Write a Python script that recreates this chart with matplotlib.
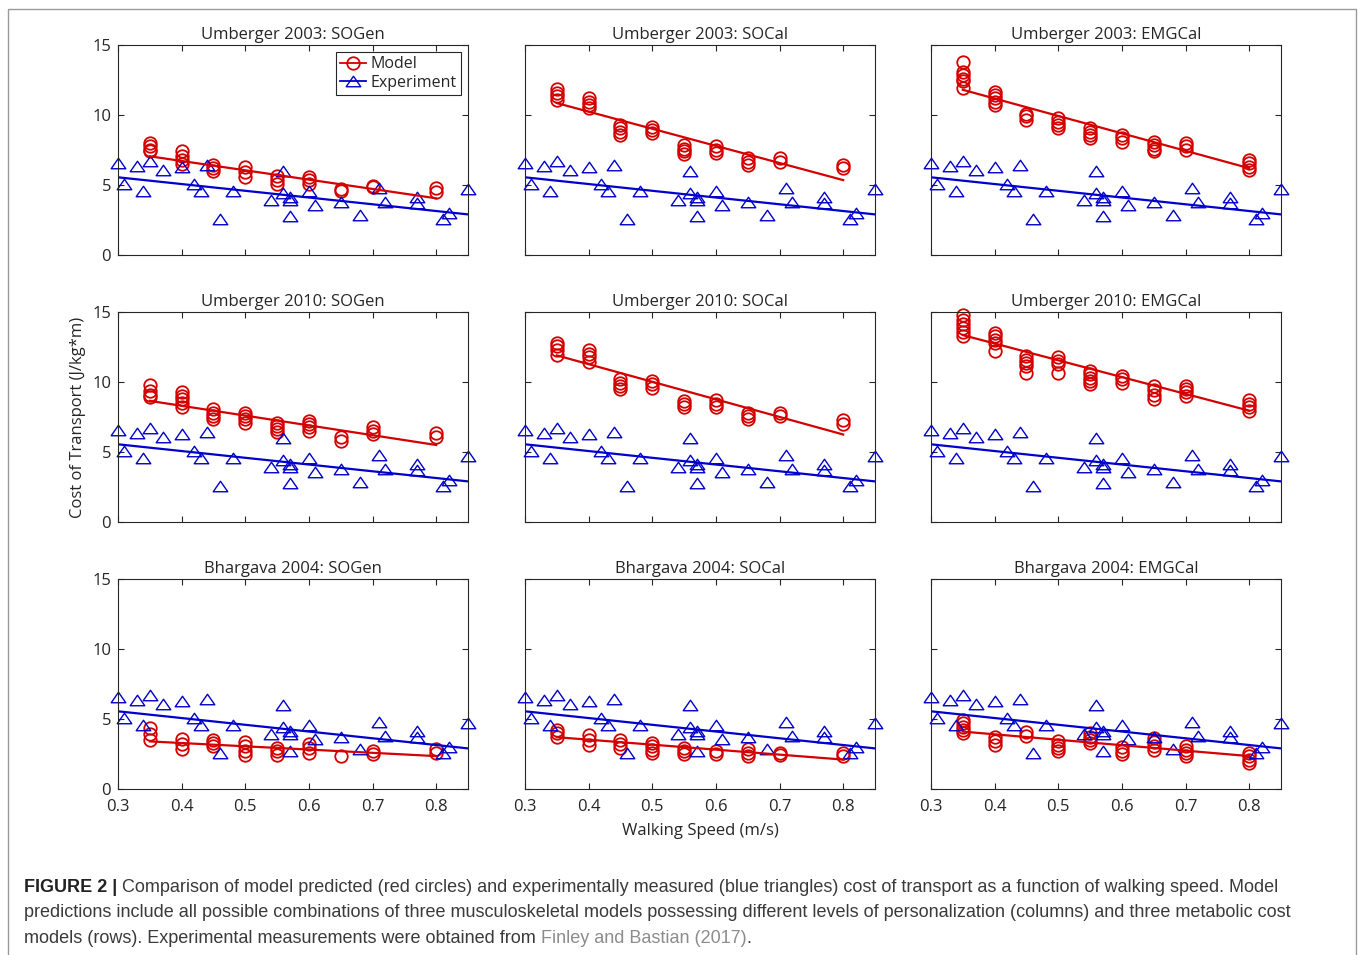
import matplotlib.pyplot as plt
from matplotlib.lines import Line2D
from matplotlib.patches import Rectangle
from matplotlib.path import Path

plt.rcParams['font.family'] = ['Open Sans', 'DejaVu Sans']

# experimental data (same in every panel)
exp_speed = [0.30, 0.31, 0.33, 0.34, 0.35, 0.37, 0.40, 0.42, 0.43, 0.44, 0.46, 0.48,
             0.54, 0.56, 0.56, 0.57, 0.57, 0.57, 0.60, 0.61, 0.65, 0.68, 0.71, 0.72,
             0.77, 0.77, 0.81, 0.82, 0.85]
exp_cot = [6.6, 5.1, 6.35, 4.6, 6.7, 6.1, 6.3, 5.05, 4.6, 6.45, 2.55, 4.6,
           3.95, 6.0, 4.4, 4.15, 3.9, 2.75, 4.6, 3.6, 3.75, 2.85, 4.8, 3.8,
           4.15, 3.7, 2.6, 3.0, 4.7]
exp_fit_x = [0.30, 0.85]
exp_fit_y = [5.55, 2.9]

model_speed = [0.35, 0.40, 0.45, 0.50, 0.55, 0.60, 0.65, 0.70, 0.80]
model_fit_x = [0.35, 0.80]

# model predictions, one list of values per speed
u03_sogen = [[8.0, 7.75, 7.5, 7.4], [7.4, 7.1, 6.8, 6.5], [6.4, 6.2, 6.0], [6.3, 5.95, 5.6],
             [5.65, 5.35, 5.1], [5.6, 5.35, 5.1], [4.7, 4.55], [4.85, 4.9], [4.75, 4.5]]
u03_socal = [[11.85, 11.6, 11.35, 11.05], [11.2, 10.95, 10.7, 10.5], [9.3, 9.05, 8.8, 8.55],
             [9.15, 8.9, 8.7], [7.85, 7.6, 7.4, 7.2], [7.75, 7.5, 7.25], [6.9, 6.65, 6.45],
             [6.9, 6.65], [6.45, 6.2]]
u03_emgcal = [[13.8, 13.1, 12.85, 12.6, 12.4, 11.9], [11.65, 11.45, 11.2, 10.95, 10.7],
              [10.1, 9.9, 9.65], [9.75, 9.5, 9.3, 9.05], [9.05, 8.8, 8.55, 8.35],
              [8.55, 8.35, 8.1], [8.1, 7.85, 7.6, 7.4], [8.0, 7.75, 7.5],
              [6.8, 6.55, 6.3, 6.05]]
u10_sogen = [[9.8, 9.35, 9.1, 8.9], [9.25, 9.0, 8.75, 8.5, 8.2], [8.05, 7.8, 7.6, 7.35],
             [7.8, 7.6, 7.35, 7.1], [7.1, 6.85, 6.65, 6.4], [7.2, 7.0, 6.75, 6.5],
             [6.1, 5.8], [6.75, 6.5, 6.3], [6.35, 6.1]]
u10_socal = [[12.8, 12.55, 12.3, 11.95], [12.3, 12.0, 11.75, 11.4], [10.2, 9.95, 9.7, 9.5],
             [10.1, 9.85, 9.6], [8.65, 8.4, 8.2], [8.7, 8.45, 8.2], [7.8, 7.6, 7.35],
             [7.8, 7.6], [7.25, 7.0]]
u10_emgcal = [[14.75, 14.45, 14.15, 13.85, 13.6, 13.25], [13.5, 13.25, 13.0, 12.8, 12.2],
              [11.85, 11.6, 11.35, 11.15, 10.65], [11.75, 11.5, 11.25, 10.65],
              [10.8, 10.55, 10.3, 10.05, 9.85], [10.45, 10.2, 9.95], [9.7, 9.4, 9.1, 8.75],
              [9.7, 9.5, 9.25, 9.0], [8.7, 8.4, 8.2, 7.95]]
b04_sogen = [[4.35, 3.95, 3.5], [3.55, 3.25, 2.85], [3.5, 3.3, 3.05], [3.35, 3.05, 2.75, 2.45],
             [2.9, 2.7, 2.45], [3.25, 2.9, 2.55], [2.35], [2.7, 2.5], [2.85, 2.6]]
b04_socal = [[4.2, 4.0, 3.75], [3.85, 3.5, 3.15], [3.5, 3.25, 2.9], [3.3, 3.05, 2.8, 2.55],
             [2.9, 2.7, 2.5], [2.75, 2.5], [2.85, 2.6, 2.35], [2.6, 2.45], [2.55, 2.35]]
b04_emgcal = [[4.95, 4.7, 4.45, 4.25, 4.0], [3.75, 3.45, 3.15], [4.05, 3.8],
              [3.4, 3.15, 2.9, 2.7], [4.0, 3.75, 3.5, 3.3], [3.0, 2.75, 2.5],
              [3.65, 3.35, 3.05, 2.8], [3.05, 2.8, 2.55, 2.35], [2.6, 2.35, 2.1, 1.85]]

# linear fit of the model predictions, value at 0.35 and 0.80 m/s
fit_u03 = [[7.05, 4.05], [10.85, 5.35], [11.8, 6.2]]
fit_u10 = [[8.65, 5.5], [11.9, 6.25], [13.35, 7.95]]
fit_b04 = [[3.4, 2.35], [3.7, 2.1], [4.1, 2.35]]

row_names = ['Umberger 2003', 'Umberger 2010', 'Bhargava 2004']
col_names = ['SOGen', 'SOCal', 'EMGCal']
models = [[u03_sogen, u03_socal, u03_emgcal],
          [u10_sogen, u10_socal, u10_emgcal],
          [b04_sogen, b04_socal, b04_emgcal]]
fits = [fit_u03, fit_u10, fit_b04]

RED = '#d40000'
BLUE = '#0000cc'
AXC = '#262626'
FS = 12
TRI = Path([(-1, -0.72), (1, -0.72), (0, 0.72), (-1, -0.72)], closed=True)


def panel(ax, model, fit, title):
    for s, vals in zip(model_speed, model):
        ax.plot([s] * len(vals), vals, ls='none', marker='o', ms=9, mfc='none',
                mec=RED, mew=1.3, clip_on=False)
    ax.plot(exp_speed, exp_cot, ls='none', marker=TRI, ms=10.5, mfc='none',
            mec=BLUE, mew=1.0, clip_on=False)
    ax.plot(model_fit_x, fit, color=RED, lw=1.6)
    ax.plot(exp_fit_x, exp_fit_y, color=BLUE, lw=1.6)
    ax.set_xlim(0.3, 0.85)
    ax.set_ylim(0, 15)
    ax.set_xticks([0.3, 0.4, 0.5, 0.6, 0.7, 0.8])
    ax.set_yticks([0, 5, 10, 15])
    ax.tick_params(direction='in', top=True, right=True, length=4, width=0.8,
                   color=AXC, labelcolor=AXC, labelsize=FS)
    ax.tick_params(axis='x', pad=7)
    ax.tick_params(axis='y', pad=5)
    for sp in ax.spines.values():
        sp.set_color(AXC)
        sp.set_linewidth(0.8)
    ax.set_title(title, fontsize=FS, color=AXC, y=1.0, pad=4.5)


fig = plt.figure(figsize=(13.58, 9.55), dpi=100)
W, H = 1358.0, 955.0
lefts = [118, 525, 931]
tops = [45, 312, 579]
axes = []
for r in range(3):
    for c in range(3):
        ax = fig.add_axes([lefts[c] / W, 1 - (tops[r] + 210) / H, 350 / W, 210 / H])
        panel(ax, models[r][c], fits[r][c], row_names[r] + ': ' + col_names[c])
        ax.set_xticklabels(['0.3', '0.4', '0.5', '0.6', '0.7', '0.8'] if r == 2 else [])
        ax.set_yticklabels(['0', '5', '10', '15'] if c == 0 else [])
        axes.append(ax)

handles = [Line2D([], [], color=RED, lw=1.3, marker='o', ms=9, mfc='none', mew=1.3),
           Line2D([], [], color=BLUE, lw=1.3, marker=TRI, ms=10.5, mfc='none', mew=1.0)]
leg = axes[0].legend(handles, ['Model', 'Experiment'], loc='upper right', fontsize=11.5,
                     fancybox=False, framealpha=1, edgecolor=AXC, handlelength=1.6,
                     handletextpad=0.3, borderpad=0.25, labelspacing=0.15,
                     borderaxespad=0.45)
leg.get_frame().set_linewidth(0.8)
leg.set_zorder(5)
for t in leg.get_texts():
    t.set_color(AXC)

fig.text(78 / W, 1 - 417 / H, 'Cost of Transport (J/kg*m)', rotation=90, ha='center',
         va='center', fontsize=FS, color=AXC)
fig.text(700 / W, 1 - 831 / H, 'Walking Speed (m/s)', ha='center', va='center',
         fontsize=FS, color=AXC)

# outer frame
fig.patches.append(Rectangle((8 / W, -0.01), 1348 / W, 1 - 9 / H + 0.01,
                             transform=fig.transFigure, fill=False, ec='#9a9a9a', lw=1.0))

# caption
cap_font = ['Liberation Sans', 'DejaVu Sans']
cap_size = 13.0
cap_col = '#3a3a3a'
link_col = '#8c8c8c'
x0 = 24 / W
fig.canvas.draw()
rend = fig.canvas.get_renderer()


def put(x, y, s, **kw):
    t = fig.text(x, y, s, family=cap_font, fontsize=cap_size, va='center', **kw)
    bb = t.get_window_extent(renderer=rend)
    return x + bb.width / W


y1, y2, y3 = 1 - 887 / H, 1 - 912 / H, 1 - 938 / H
x = put(x0, y1, 'FIGURE 2 | ', weight='bold', color='#222222')
put(x, y1, 'Comparison of model predicted (red circles) and experimentally measured '
           '(blue triangles) cost of transport as a function of walking speed. Model',
    color=cap_col)
put(x0, y2, 'predictions include all possible combinations of three musculoskeletal models '
            'possessing different levels of personalization (columns) and three metabolic cost',
    color=cap_col)
x = put(x0, y3, 'models (rows). Experimental measurements were obtained from ', color=cap_col)
x = put(x, y3, 'Finley and Bastian (2017)', color=link_col)
put(x, y3, '.', color=cap_col)

fig.savefig('out.png', dpi=100)
